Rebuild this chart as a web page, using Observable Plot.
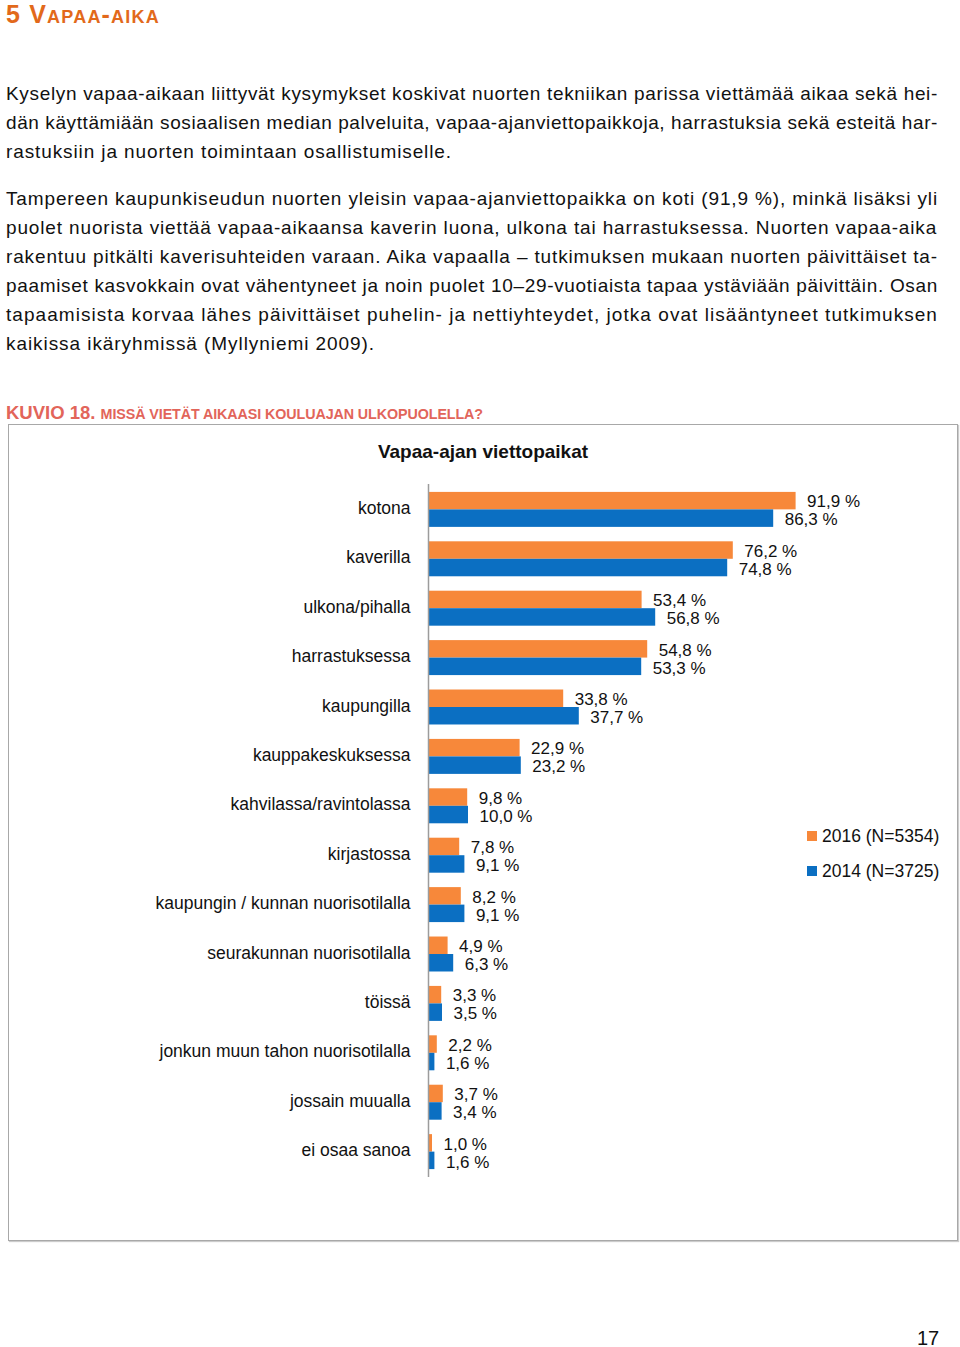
<!DOCTYPE html>
<html>
<head>
<meta charset="utf-8">
<script src="https://cdn.jsdelivr.net/npm/d3@7"></script>
<script src="https://cdn.jsdelivr.net/npm/@observablehq/plot@0.6"></script>
<style>
  html, body { margin: 0; padding: 0; background: #fff; }
  body { width: 960px; height: 1347px; position: relative; overflow: hidden;
         font-family: "Liberation Sans", Arial, Helvetica, sans-serif; color: #111; }
  .abs { position: absolute; }
  .heading { left: 6px; top: -1px; font-size: 25px; font-weight: bold; color: #E2691B;
             font-variant: small-caps; line-height: 30px; letter-spacing: 1.2px; }
  .line { position: absolute; left: 6px; white-space: nowrap; font-size: 19px; line-height: 29px; }
  .caption { left: 6px; top: 401px; color: #E2655A; font-weight: bold; white-space: nowrap; line-height: 24px; }
  .caption .big { font-size: 18.5px; }
  .caption .small { font-size: 14.3px; }
  .box { left: 8px; top: 424px; width: 948px; height: 815px; border: 1.5px solid #a8a8a8; box-shadow: 1px 1px 1px #ccc; }
  .title { left: 8px; width: 950px; top: 441px; text-align: center; font-weight: bold; font-size: 19px; }
  .legend { left: 807px; font-size: 17.5px; line-height: 20px; white-space: nowrap; }
  .legend .sw { display: inline-block; width: 10px; height: 10px; margin-right: 5px; vertical-align: 1px; }
  .pageno { left: 917px; top: 1327px; font-size: 20px; }
  #chart { position: absolute; left: 8px; top: 424px; }
</style>
</head>
<body>
<script>
// ---------- data ----------
const categories = ["kotona", "kaverilla", "ulkona/pihalla", "harrastuksessa", "kaupungilla",
  "kauppakeskuksessa", "kahvilassa/ravintolassa", "kirjastossa", "kaupungin / kunnan nuorisotilalla",
  "seurakunnan nuorisotilalla", "töissä", "jonkun muun tahon nuorisotilalla", "jossain muualla", "ei osaa sanoa"];
const values2016 = [91.9, 76.2, 53.4, 54.8, 33.8, 22.9, 9.8, 7.8, 8.2, 4.9, 3.3, 2.2, 3.7, 1.0];
const values2014 = [86.3, 74.8, 56.8, 53.3, 37.7, 23.2, 10.0, 9.1, 9.1, 6.3, 3.5, 1.6, 3.4, 1.6];
const seriesNames = ["2016 (N=5354)", "2014 (N=3725)"];
const seriesColors = ["#F7883A", "#0B6FC2"];
const chartTitle = "Vapaa-ajan viettopaikat";
const headingText = "5 Vapaa-aika";
const captionNum = "KUVIO 18.";
const captionText = "MISSÄ VIETÄT AIKAASI KOULUAJAN ULKOPUOLELLA?";
const pageNumber = "17";
const paragraph1 = [
  "Kyselyn vapaa-aikaan liittyvät kysymykset koskivat nuorten tekniikan parissa viettämää aikaa sekä hei-",
  "dän käyttämiään sosiaalisen median palveluita, vapaa-ajanviettopaikkoja, harrastuksia sekä esteitä har-",
  "rastuksiin ja nuorten toimintaan osallistumiselle."
];
const paragraph2 = [
  "Tampereen kaupunkiseudun nuorten yleisin vapaa-ajanviettopaikka on koti (91,9 %), minkä lisäksi yli",
  "puolet nuorista viettää vapaa-aikaansa kaverin luona, ulkona tai harrastuksessa.  Nuorten vapaa-aika",
  "rakentuu pitkälti kaverisuhteiden varaan. Aika vapaalla – tutkimuksen mukaan nuorten päivittäiset ta-",
  "paamiset kasvokkain ovat vähentyneet ja noin puolet 10–29-vuotiaista tapaa ystäviään päivittäin. Osan",
  "tapaamisista korvaa lähes päivittäiset puhelin- ja nettiyhteydet, jotka ovat lisääntyneet tutkimuksen",
  "kaikissa ikäryhmissä (Myllyniemi 2009)."
];

// ---------- text layout ----------
function el(tag, cls, text) {
  const e = document.createElement(tag);
  if (cls) e.className = cls;
  if (text != null) e.textContent = text;
  document.body.appendChild(e);
  return e;
}
el("div", "abs heading", headingText);

function fitSpan(s, target) {
  const w = s.getBoundingClientRect().width;
  s.style.letterSpacing = ((target - w) / s.textContent.length) + "px";
}
function addLines(lines, top0, ends) {
  lines.forEach((t, i) => {
    const d = el("div", "line");
    d.style.top = (top0 + i * 29) + "px";
    const s = document.createElement("span");
    s.textContent = t;
    d.appendChild(s);
    fitSpan(s, ends[i] - 6);
  });
}
addLines(paragraph1, 79, [938, 938, 452]);
addLines(paragraph2, 184, [938, 938, 938, 938, 938, 375]);

const cap = el("div", "abs caption");
const c1 = document.createElement("span"); c1.className = "big"; c1.textContent = captionNum + " ";
const c2 = document.createElement("span"); c2.className = "small"; c2.textContent = captionText;
cap.appendChild(c1); cap.appendChild(c2);
fitSpan(c2, 483 - c2.getBoundingClientRect().left);

el("div", "abs box");
el("div", "abs title", chartTitle);

// ---------- chart ----------
const rows2016 = categories.map((c, i) => ({cat: c, value: values2016[i]}));
const rows2014 = categories.map((c, i) => ({cat: c, value: values2014[i]}));
const fmt = v => d3.format(".1f")(v).replace(".", ",") + " %";
const half = 17.5;

const chart = Plot.plot({
  width: 950,
  height: 817,
  marginLeft: 420,
  marginRight: 130,
  marginTop: 60,
  marginBottom: 64,
  style: {fontFamily: "'Liberation Sans', Arial, sans-serif", fontSize: "17px", background: "transparent", color: "#111"},
  x: {domain: [0, 100], axis: null},
  y: {domain: categories, paddingInner: 0.292, paddingOuter: 0.16, round: false, label: null},
  marks: [
    Plot.barX(rows2016, {x: "value", y: "cat", fill: seriesColors[0], insetBottom: half}),
    Plot.barX(rows2014, {x: "value", y: "cat", fill: seriesColors[1], insetTop: half}),
    Plot.ruleX([0], {stroke: "#9c9c9c", strokeWidth: 1.5}),
    Plot.text(rows2016, {x: "value", y: "cat", text: d => fmt(d.value), dx: 11, dy: -8, textAnchor: "start", fill: "#111", fontSize: 17}),
    Plot.text(rows2014, {x: "value", y: "cat", text: d => fmt(d.value), dx: 11, dy: 10, textAnchor: "start", fill: "#111", fontSize: 17}),
    Plot.axisY({tickSize: 0, tickPadding: 18, label: null, fontSize: 17.5, dy: -1.5})
  ]
});
chart.id = "chart";
document.body.appendChild(chart);

// legend
seriesNames.forEach((name, i) => {
  const lg = el("div", "abs legend");
  lg.style.top = (826 + i * 35) + "px";
  const sw = document.createElement("span"); sw.className = "sw"; sw.style.background = seriesColors[i];
  lg.appendChild(sw);
  lg.appendChild(document.createTextNode(name));
});

el("div", "abs pageno", pageNumber);
</script>
</body>
</html>
